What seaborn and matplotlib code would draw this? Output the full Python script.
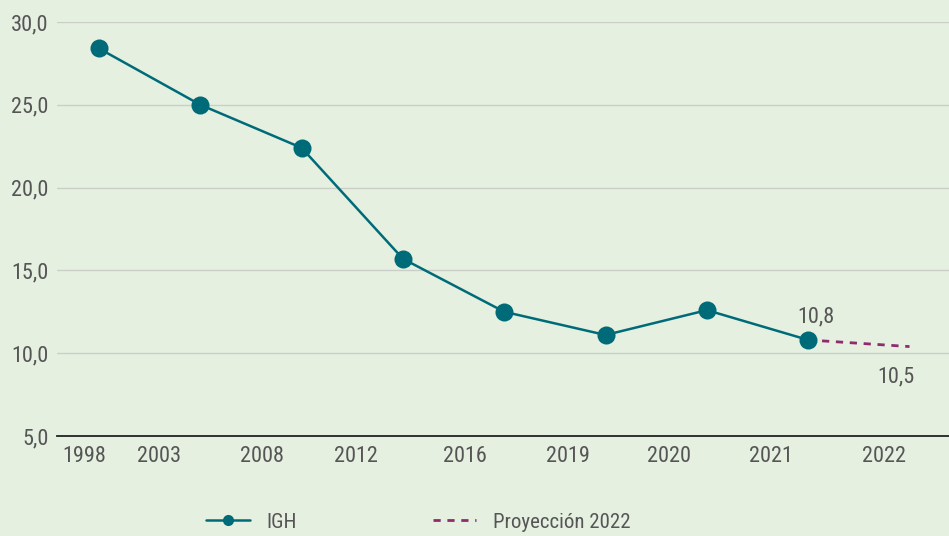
import matplotlib
matplotlib.use("Agg")
import matplotlib.pyplot as plt
from matplotlib.lines import Line2D
import seaborn as sns
import pandas as pd

# data
years = ["1998", "2003", "2008", "2012", "2016", "2019", "2020", "2021", "2022"]
igh = [28.4, 25.0, 22.4, 15.7, 12.5, 11.1, 12.6, 10.8]
proj_years = ["2021", "2022"]
proj = [10.8, 10.4]
proj_labels = ["10,8", "10,5"]
yticks = [5, 10, 15, 20, 25, 30]

teal = "#006b78"
purple = "#8e2c6c"
bg = "#e5f0e1"
grey = "#555555"

sns.set_theme(style="white")
plt.rcParams["font.family"] = ["Roboto Condensed", "DejaVu Sans"]

df = pd.DataFrame({"x": range(len(igh)), "y": igh})
dp = pd.DataFrame({"x": [years.index(y) for y in proj_years], "y": proj})

fig = plt.figure(figsize=(9.49, 5.36), dpi=100, facecolor=bg)
ax = fig.add_axes([57 / 949, 100 / 536, 1 - 57 / 949, 414 / 536])
ax.set_facecolor(bg)

dash = (0, (2.6, 2.4))
sns.lineplot(data=dp, x="x", y="y", ax=ax, color=purple, linewidth=2, linestyle=dash)
sns.lineplot(data=df, x="x", y="y", ax=ax, color=teal, linewidth=1.8,
             marker="o", markersize=13, markeredgewidth=0)

# value labels on the last points
ax.text(dp["x"][0] + 0.08, dp["y"][0] + 0.75, proj_labels[0], ha="center", va="bottom",
        fontsize=16, color=grey)
ax.text(dp["x"][1] - 0.13, dp["y"][1] - 1.2, proj_labels[1], ha="center", va="top",
        fontsize=16, color=grey)

ax.set_ylim(5, 30)
ax.set_xlim(-0.415, 8.39)
ax.set_yticks(yticks)
ax.set_yticklabels([f"{v:.1f}".replace(".", ",") for v in yticks], fontsize=16, color=grey)
# the year labels sit between the points in the original
ax.set_xticks([-0.15, 0.59, 1.61, 2.54, 3.61, 4.63, 5.63, 6.63, 7.75])
ax.set_xticklabels(years, fontsize=16, color=grey)
ax.tick_params(axis="x", length=0, pad=7)
ax.tick_params(axis="y", length=0, pad=6)
ax.set_xlabel("")
ax.set_ylabel("")
ax.yaxis.grid(True, color="#c9cfc8", linewidth=1)
for s in ["top", "right", "left"]:
    ax.spines[s].set_visible(False)
ax.spines["bottom"].set_color("#222222")
ax.spines["bottom"].set_linewidth(1.3)

handles = [
    Line2D([], [], color=teal, linewidth=1.8, marker="o", markersize=8, markeredgewidth=0),
    Line2D([], [], color=purple, linewidth=2, linestyle=dash),
]
fig.legend(handles, ["IGH", "Proyección 2022"], loc="center", bbox_to_anchor=(0.441, 0.026),
           ncol=2, frameon=False, fontsize=15, labelcolor=grey,
           handlelength=2.1, columnspacing=6.5, handletextpad=0.8)

plt.savefig("out.png", dpi=100, facecolor=bg)
